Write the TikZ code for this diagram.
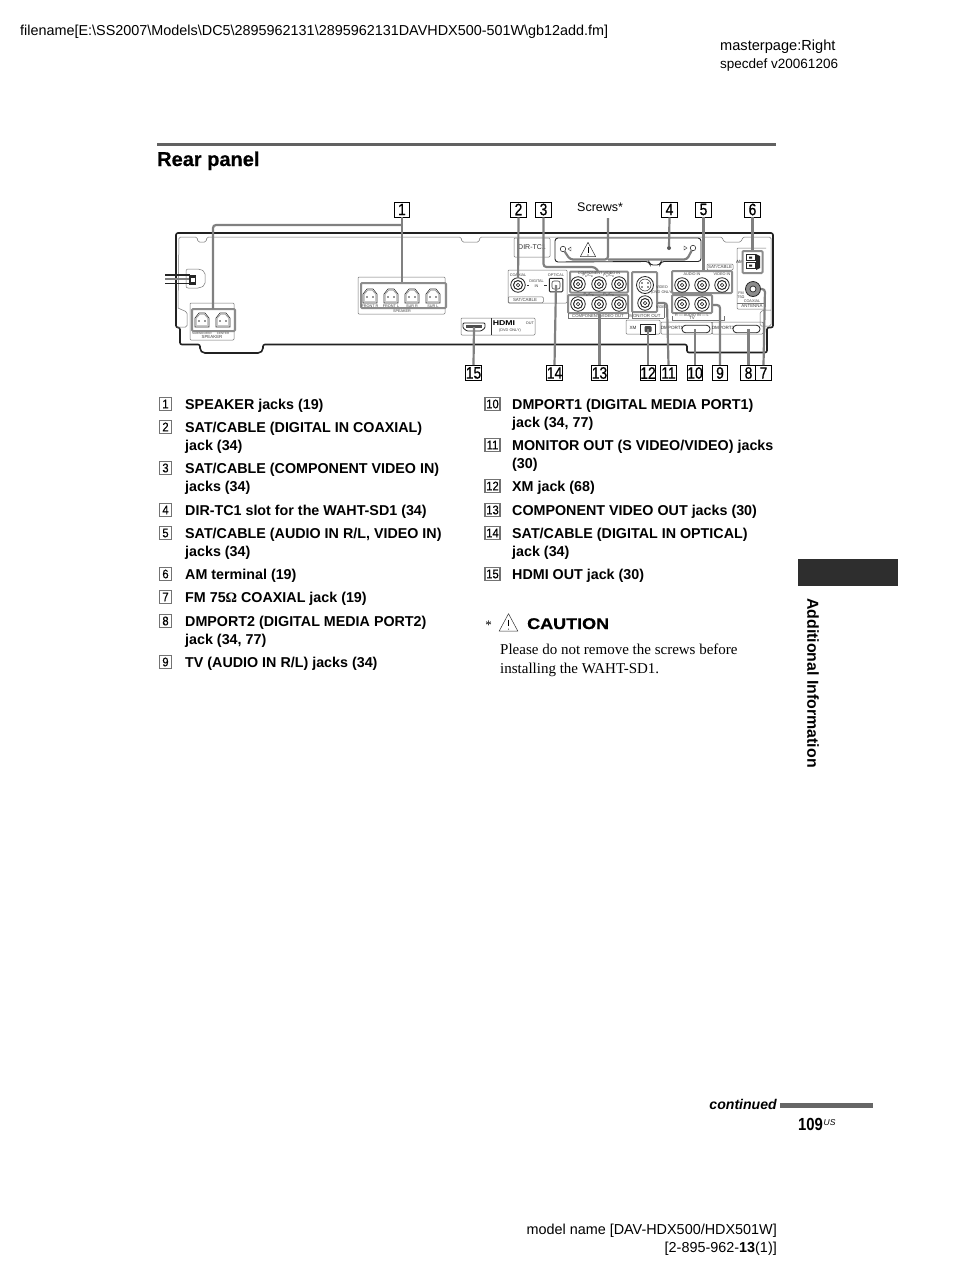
\documentclass[tikz,border=0pt]{standalone}
\usepackage{fontspec}
\setmainfont{Liberation Sans}
\newfontfamily\serifbody{Liberation Serif}
\newfontfamily\cnfont[FakeStretch=0.84,FakeBold=0.6]{Liberation Sans}
\newfontfamily\numfont[FakeStretch=0.9,FakeBold=0.3]{Liberation Sans}
\newfontfamily\widefont[FakeStretch=1.16,FakeBold=0.8]{Liberation Sans}
\newfontfamily\headfont[FakeBold=0.5]{Liberation Sans}
\definecolor{callgray}{gray}{0.5}
\definecolor{groupgray}{gray}{0.55}
\definecolor{thin}{gray}{0.45}
\definecolor{chassis}{gray}{0.13}
\tikzset{
 callbox/.style={draw=black,line width=0.9pt,fill=white,minimum width=15.5pt,minimum height=15pt,inner sep=0pt,font=\cnfont\fontsize{16.5}{18}\selectfont},
 numbox/.style={draw=black!55,line width=1.1pt,fill=white,minimum width=12.5pt,minimum height=12.5pt,inner sep=0pt,font=\numfont\fontsize{12.5}{14}\selectfont},
 itemtext/.style={anchor=north west,inner sep=0pt,yshift=7.6pt,align=left,font=\fontsize{14.3}{18}\selectfont\bfseries},
 call/.style={draw=callgray,line width=2.2pt,rounded corners=3pt},
 group/.style={draw=groupgray,line width=2pt,rounded corners=1pt,inner sep=0pt},
 thinbox/.style={draw=thin,line width=0.5pt,rounded corners=1pt,inner sep=0pt},
 thinline/.style={draw=thin,line width=0.5pt},
 hull/.style={draw=chassis,line width=1.6pt,rounded corners=2pt},
 tiny/.style={inner sep=0pt,font=\fontsize{3.8}{4.4}\selectfont,text=black!75,align=center},
 small/.style={inner sep=0pt,font=\fontsize{4.6}{5}\selectfont,text=black!85,align=center},
 jackout/.style={circle,draw=black!85,line width=0.8pt,fill=white,minimum size=14.5pt,inner sep=0pt},
 jackmid/.style={circle,draw=black!85,line width=1pt,fill=white,minimum size=9pt,inner sep=0pt},
 jackin/.style={circle,draw=black!85,line width=0.7pt,minimum size=3.5pt,inner sep=0pt},
 page/.style={inner sep=0pt,font=\fontsize{14.4}{18}\selectfont},
}
\newcommand\jack[3]{\node[jackout] (#1) at (#2,#3) {}; \node[jackmid] (#1m) at (#1) {}; \node[jackin] (#1i) at (#1) {};}
\newcommand\spk[3]{\node[minimum size=15pt,inner sep=0pt] (#1) at (#2,#3) {};
 \draw[black!80,line width=0.6pt] (#2-7,#3+7)--(#2-7,#3-2)--(#2-3,#3-7)--(#2+3,#3-7)--(#2+7,#3-2)--(#2+7,#3+7)--cycle;
 \draw[black!60,line width=0.4pt] (#2-5.5,#3+5.5)--(#2-5.5,#3-2)--(#2-2.5,#3-5.5)--(#2+2.5,#3-5.5)--(#2+5.5,#3-2)--(#2+5.5,#3+5.5)--cycle;
 \fill[black!80] (#2-3,#3+1) circle (0.9) (#2+3,#3+1) circle (0.9);}
\newcommand\warn[3]{\draw[black!80,line width=0.5pt,line join=round] (#1,#2-#3*0.55)--(#1+#3*0.55,#2+#3*0.48)--(#1-#3*0.55,#2+#3*0.48)--cycle;
 \draw[black,line width=0.9pt] (#1,#2-#3*0.2)--(#1,#2+#3*0.2); \fill[black] (#1,#2+#3*0.36) circle (0.6);}
\newcommand\liL[3]{\node[numbox] (n#1) at (165.5,#2) {#1}; \node[itemtext] (t#1) at (185,#2) {\strut #3};}
\newcommand\liR[3]{\node[numbox,minimum width=15pt] (n#1) at (492.5,#2) {#1}; \node[itemtext] (t#1) at (512,#2) {\strut #3};}
\begin{document}
\begin{tikzpicture}[x=1pt,y=-1pt]
\useasboundingbox (0,0) rectangle (954,1270);
\fill[white] (0,0) rectangle (954,1270);
% page furniture
\node[page,anchor=base west] (fn) at (20,35) {filename[E:\textbackslash SS2007\textbackslash Models\textbackslash DC5\textbackslash 2895962131\textbackslash 2895962131DAVHDX500-501W\textbackslash gb12add.fm]};
\node[page,anchor=base west,font=\fontsize{14.6}{18}\selectfont] (mp) at (720,50) {masterpage:Right};
\node[page,anchor=base west,font=\fontsize{13.5}{18}\selectfont] (sd) at (720,68) {specdef v20061206};
\draw[draw=black!62,line width=3pt] (157,144.5)--(776,144.5);
\node[inner sep=0pt,anchor=base west,font=\headfont\fontsize{20}{20}\selectfont\bfseries] (rp) at (157,166) {Rear panel};
\fill[black!82] (798,559) rectangle (898,586);
\node[inner sep=0pt,rotate=-90,anchor=center,font=\fontsize{15.9}{16}\selectfont\bfseries] (ai) at (813,683) {Additional Information};
\node[inner sep=0pt,anchor=base east,font=\fontsize{14.1}{14}\selectfont\bfseries\itshape] (cont) at (777,1109) {continued};
\draw[draw=black!60,line width=4.5pt] (780,1105.5)--(873,1105.5);
\node[inner sep=0pt,anchor=base west,font=\fontsize{17.5}{18}\selectfont\bfseries,xscale=0.85] (pg) at (798,1130.5) {109};
\node[inner sep=0pt,anchor=base west,font=\fontsize{8.5}{9}\selectfont\itshape] (us) at (823.5,1125) {US};
\node[page,anchor=north east,align=right] (mn) at (777,1224) {model name [DAV-HDX500/HDX501W]\\{}[2-895-962-\textbf{13}(1)]};

% chassis
\draw[hull] (176,233)--(176,327.5)--(180,327.5)--(180,344.5)--(200,344.5)--(200,350)--(203,353)--(260,353)--(263,350)--(263,344.5)--(687,344.5)--(687,352.5)--(767,352.5)--(767,327.5)--(773,327.5)--(773,233)--cycle;
\draw[thinline,rounded corners=1.5pt] (178,308)--(179,237)--(197,237)--(198,242)--(206,242)--(207,237)--(461,237)--(462,242)--(479,242)--(480,237)--(722,237)--(724,242)--(741,242)--(743,237)--(771,237)--(771,326)--(760,326)--(760,312)--(764,310)--(771,310);
\draw[thinline,rounded corners=1.5pt] (178,308)--(187,312)--(187,327)--(177,327);
% power cable
\draw[thinline,rounded corners=2pt] (186,269)--(200,269)--(205,272)--(205,285)--(200,288)--(186,288)--cycle;
\draw[black!85,line width=1.1pt] (165,275)--(190,275) (165,283.5)--(190,283.5);
\draw[black!50,line width=2pt] (165,279)--(190,279);
\fill[black!85] (189,274.5) rectangle (196,285);
\fill[white] (191,278) rectangle (194.5,282);

% speaker groups
\node[thinbox,minimum width=87pt,minimum height=37pt] (spkRo) at (401.5,295.5) {};
\node[group,minimum width=85pt,minimum height=25pt] (spkR) at (403.5,295.5) {};
\spk{sp3}{370}{296}\spk{sp4}{391}{296}\spk{sp5}{412}{296}\spk{sp6}{433}{296}
\node[tiny] (l3) at (370,306) {FRONT R};\node[tiny] (l4) at (391,306) {FRONT L};\node[tiny] (l5) at (412,306) {SUR R};\node[tiny] (l6) at (433,306) {SUR L};
\node[tiny] (l7) at (402,311) {SPEAKER};
\node[thinbox,minimum width=44pt,minimum height=37pt] (spkLo) at (212,321.5) {};
\node[group,minimum width=43pt,minimum height=22pt] (spkL) at (213.5,320) {};
\spk{sp1}{202}{320}\spk{sp2}{223}{320}
\node[tiny,font=\fontsize{3}{4}\selectfont] at (202,333) {SUBWOOFER};\node[tiny,font=\fontsize{3}{4}\selectfont] at (223,333) {CENTER};
\node[tiny,font=\fontsize{4.4}{5}\selectfont] (l8) at (212,337) {SPEAKER};

% DIR-TC1 slot
\node[thinbox,minimum width=36pt,minimum height=19pt] (dir) at (532,247.5) {};
\node[inner sep=0pt,font=\fontsize{7}{8}\selectfont,text=black!80] (dirt) at (532,247) {DIR-TC1};
\draw[draw=black!85,line width=0.9pt,rounded corners=3pt] (555,262)--(555,238)--(701,238)--(701,261.5)--(661,261.5)--(660,265)--(650,265)--(649,261.5)--cycle;
\node[circle,draw=black!80,line width=.6pt,minimum size=5.5pt,inner sep=0pt] (scrL) at (563,249) {};
\node[circle,draw=black!80,line width=.6pt,minimum size=5.5pt,inner sep=0pt] (scrR) at (693,248) {};
\draw[black!80,line width=.4pt,fill=white] (571,247)--(571,251)--(568,249)--cycle (684,246)--(684,250)--(687,248)--cycle;
\warn{588}{250}{14}
\node[circle,fill=black!65,minimum size=4pt,inner sep=0pt] (slotdot) at (669,248) {};

% SAT/CABLE coaxial and optical
\node[thinbox,minimum width=59pt,minimum height=33pt] (satbox) at (537.5,286.5) {};
\node[thinbox,minimum width=35pt,minimum height=6pt,anchor=south west] (satlab) at (508,303) {};
\node[tiny,font=\fontsize{4.4}{5}\selectfont] at (525,300.3) {SAT/CABLE};
\node[tiny] at (518,275) {COAXIAL};\node[tiny] at (556,275) {OPTICAL};
\node[tiny] at (536.5,283.5) {DIGITAL\\IN};
\jack{coax}{518}{285}
\draw[black!80,line width=.6pt] (527,285)--(529,285) (544,285)--(547,285);
\node[draw=black!85,line width=1pt,rounded corners=1pt,minimum size=13.5pt,inner sep=0pt,fill=white] (opt) at (556,285) {};
\node[draw=black!75,line width=.6pt,rounded corners=2pt,minimum size=8pt,inner sep=0pt] (opti) at (556,285) {};

% component video
\node[group,minimum width=58pt,minimum height=21pt] (compIn) at (599,282) {};
\node[group,minimum width=60pt,minimum height=18pt] (compOut) at (598,304) {};
\jack{ci1}{578}{284}\jack{ci2}{599}{284}\jack{ci3}{619}{284}
\jack{co1}{578}{304}\jack{co2}{599}{304}\jack{co3}{619}{304}
\node[tiny] at (599,273.5) {COMPONENT VIDEO IN};
\node[tiny] at (589,294.5) {P\textsubscript{B}/C\textsubscript{B}};\node[tiny] at (609,294.5) {P\textsubscript{R}/C\textsubscript{R}};
\node[tiny] at (588,275.5) {P\textsubscript{B}/C\textsubscript{B}};\node[tiny] at (609,275.5) {P\textsubscript{R}/C\textsubscript{R}};
\node[tiny,font=\fontsize{4.2}{5}\selectfont] (colab) at (598,316) {COMPONENT VIDEO OUT};
\draw[thinline] (568,313)--(568,318)--(628,318)--(628,313);

% monitor out
\node[group,minimum width=25pt,minimum height=40pt] (mon) at (644.5,292) {};
\node[jackout,minimum size=17pt] (sv) at (645,285) {};
\node[circle,draw=black!85,line width=.5pt,minimum size=12pt,inner sep=0pt] (svi) at (645,285) {};
\fill[black!85] (642,283) circle (.8) (648,283) circle (.8) (642,287) circle (.8) (648,287) circle (.8);
\jack{vid}{645}{303}
\node[tiny] at (662,290) {VIDEO\\(DVD ONLY)};
\node[tiny] at (662,307) {VIDEO};
\node[tiny,font=\fontsize{4.4}{5}\selectfont] (monl) at (645,315.5) {MONITOR OUT};
\draw[thinline] (632,312)--(632,318)--(664,318) (657,303)--(664,303)--(664,318);

% XM, DMPORT
\node[thinbox,minimum width=34pt,minimum height=14pt] (xmb) at (643,327) {};
\node[small] at (633,327.5) {XM};
\node[draw=black!85,line width=1pt,minimum width=15pt,minimum height=10pt,inner sep=0pt,fill=white] (xm) at (648,329) {};
\node[fill=black!70,rounded corners=1pt,minimum width=7pt,minimum height=6pt,inner sep=0pt] (xmi) at (648,329) {};
\node[thinbox,minimum width=51pt,minimum height=12pt] (dm1b) at (686.5,328) {};
\node[thinbox,minimum width=51pt,minimum height=12pt] (dm2b) at (737.5,328) {};
\node[small] at (672,328) {DMPORT1};\node[small] at (723,328) {DMPORT2};
\node[draw=black!85,line width=.8pt,rounded corners=3.5pt,minimum width=28pt,minimum height=7.5pt,inner sep=0pt,fill=white] (dm1) at (696,329) {};
\node[draw=black!85,line width=.8pt,rounded corners=3.5pt,minimum width=27pt,minimum height=7.5pt,inner sep=0pt,fill=white] (dm2) at (746.5,329) {};

% SAT/CABLE audio, TV
\node[thinbox,minimum width=26pt,minimum height=6pt] (satl2) at (720,267) {};
\node[tiny,font=\fontsize{4.4}{5}\selectfont] at (720,267) {SAT/CABLE};
\node[group,minimum width=60pt,minimum height=22pt] (aud) at (702,282) {};
\node[group,minimum width=40pt,minimum height=18pt] (tv) at (692,304) {};
\jack{a1}{682}{285}\jack{a2}{702}{285}\jack{a3}{722}{285}
\jack{t1}{682}{304}\jack{t2}{702}{304}
\node[tiny] at (692,274.5) {AUDIO IN};\node[tiny] at (722,274.5) {VIDEO IN};
\node[tiny] at (692,315) {R --- AUDIO IN --- L};
\node[tiny,font=\fontsize{4.4}{5}\selectfont] (tvl) at (692,318.3) {TV};
\draw[thinline] (672,316)--(672,320)--(724,320)--(724,316);

% antenna
\draw[thinline,rounded corners=1pt] (766,248)--(737,248)--(737,309)--(766,309);
\draw[thinline] (737,303.5)--(766,303.5);
\node[tiny,font=\fontsize{4.4}{5}\selectfont] (antl) at (752,306.4) {ANTENNA};
\node[small] at (739.5,262) {AM};
\node[group,minimum width=20pt,minimum height=22pt] (am) at (752.5,262) {};
\draw[black!85,line width=.7pt,fill=white] (746,254.5) rectangle (755,260.5) (746,262.5) rectangle (755,268.5);
\fill[black!85] (749,256.5) rectangle (752,258.5) (749,264.5) rectangle (752,266.5);
\fill[black!85] (756,254) -- (760,256) -- (760,268) -- (756,270) -- cycle;
\node[jackout,minimum size=15pt,fill=black!45] (fm) at (753,289) {};
\node[jackin,minimum size=6pt,fill=white] (fmi) at (753,289) {};
\node[tiny] at (741,295.5) {FM\\75Ω};
\node[tiny] at (752,301.6) {COAXIAL};

% callout boxes
\node[callbox] (c1) at (402,209.5) {1};
\node[callbox] (c2) at (518.5,209.5) {2};
\node[callbox] (c3) at (543.5,209.5) {3};
\node[callbox] (c4) at (669.5,209.5) {4};
\node[callbox] (c5) at (703.5,209.5) {5};
\node[callbox] (c6) at (752.5,209.5) {6};
\node[callbox] (c15) at (473.5,373) {15};
\node[callbox] (c14) at (554.5,373) {14};
\node[callbox] (c13) at (599.5,373) {13};
\node[callbox] (c12) at (648,373) {12};
\node[callbox] (c11) at (668.5,373) {11};
\node[callbox] (c10) at (695,373) {10};
\node[callbox] (c9) at (720,373) {9};
\node[callbox] (c8) at (748.5,373) {8};
\node[callbox] (c7) at (763.5,373) {7};
\node[inner sep=0pt,anchor=base west,font=\fontsize{12.5}{14}\selectfont] (scr) at (577,211) {Screws*};

% HDMI
\node[thinbox,minimum width=74pt,minimum height=17pt] (hdmib) at (498,326.5) {};
\draw[black!80,line width=.6pt] (491,318)--(491,335);
\draw[black!85,line width=.8pt,rounded corners=1pt] (463,323)--(485,323)--(485,328)--(481,331)--(467,331)--(463,328)--cycle;
\fill[black!70] (466,325) rectangle (482,327.5);
\node[inner sep=0pt,font=\fontsize{7}{8}\selectfont\bfseries,xscale=1.25] (hdt) at (504,323.5) {HDMI};
\node[tiny] (hdo) at (530,323) {OUT};
\node[tiny] (hds) at (510,331) {(DVD ONLY)};
\coordinate (hdmijack) at (474,327);

% callout lines
\draw[call] (c1.south)--(c1.south |- spkR.north);
\draw[call] (c1.south |- 0,225)--(213,225)--(213,309);
\draw[call] (c2.south)--(coax);
\draw[call] (c3.south)--(543.5,267)--(595,267)--(598,271);
\draw[call] (c4.south)--(slotdot);
\draw[call] (c5.south)--(c5.south |- aud.north);
\draw[call] (c6.south)--(c6.south |- am.north);
\draw[call] (c7.north)--(765,289)--(fm.east);
\draw[call] (c8.north)--(c8.north |- dm2.center);
\draw[call] (c9.north)--(720,305)--(tv.east |- 0,305);
\draw[call] (c10.north)--(c10.north |- dm1.center);
\draw[call] (c11.north)--(667,303)--(mon.east |- 0,303);
\draw[call] (c12.north)--(xm.center);
\draw[call] (c13.north)--(c13.north |- compOut.south);
\draw[call] (c14.north)--(opt.center);
\draw[call] (c15.north)--(hdmijack);
\draw[call] (608,218)--(608,259.5)--(570,259.5)--(scrL);
\draw[call] (608,259.5)--(687,259.5)--(scrR);

% list left
\liL{1}{404}{SPEAKER jacks (19)}
\liL{2}{427}{SAT/CABLE (DIGITAL IN COAXIAL)\\jack (34)}
\liL{3}{468}{SAT/CABLE (COMPONENT VIDEO IN)\\jacks (34)}
\liL{4}{510}{DIR-TC1 slot for the WAHT-SD1 (34)}
\liL{5}{533}{SAT/CABLE (AUDIO IN R/L, VIDEO IN)\\jacks (34)}
\liL{6}{574}{AM terminal (19)}
\liL{7}{597}{FM 75{\serifbody Ω} COAXIAL jack (19)}
\liL{8}{621}{DMPORT2 (DIGITAL MEDIA PORT2)\\jack (34, 77)}
\liL{9}{662}{TV (AUDIO IN R/L) jacks (34)}
% list right
\liR{10}{404}{DMPORT1 (DIGITAL MEDIA PORT1)\\jack (34, 77)}
\liR{11}{445}{MONITOR OUT (S VIDEO/VIDEO) jacks\\(30)}
\liR{12}{486}{XM jack (68)}
\liR{13}{510}{COMPONENT VIDEO OUT jacks (30)}
\liR{14}{533}{SAT/CABLE (DIGITAL IN OPTICAL)\\jack (34)}
\liR{15}{574}{HDMI OUT jack (30)}

% caution
\node[inner sep=0pt,font=\serifbody\fontsize{13}{14}\selectfont] (star) at (488.5,625) {*};
\warn{508.5}{623}{17}
\node[inner sep=0pt,anchor=base west,font=\widefont\fontsize{15.5}{16}\selectfont\bfseries] (cau) at (527,629) {CAUTION};
\node[inner sep=0pt,anchor=north west,align=left,font=\serifbody\fontsize{15}{19}\selectfont] (cbody) at (500,644) {Please do not remove the screws before\\installing the WAHT-SD1.};
\end{tikzpicture}
\end{document}
